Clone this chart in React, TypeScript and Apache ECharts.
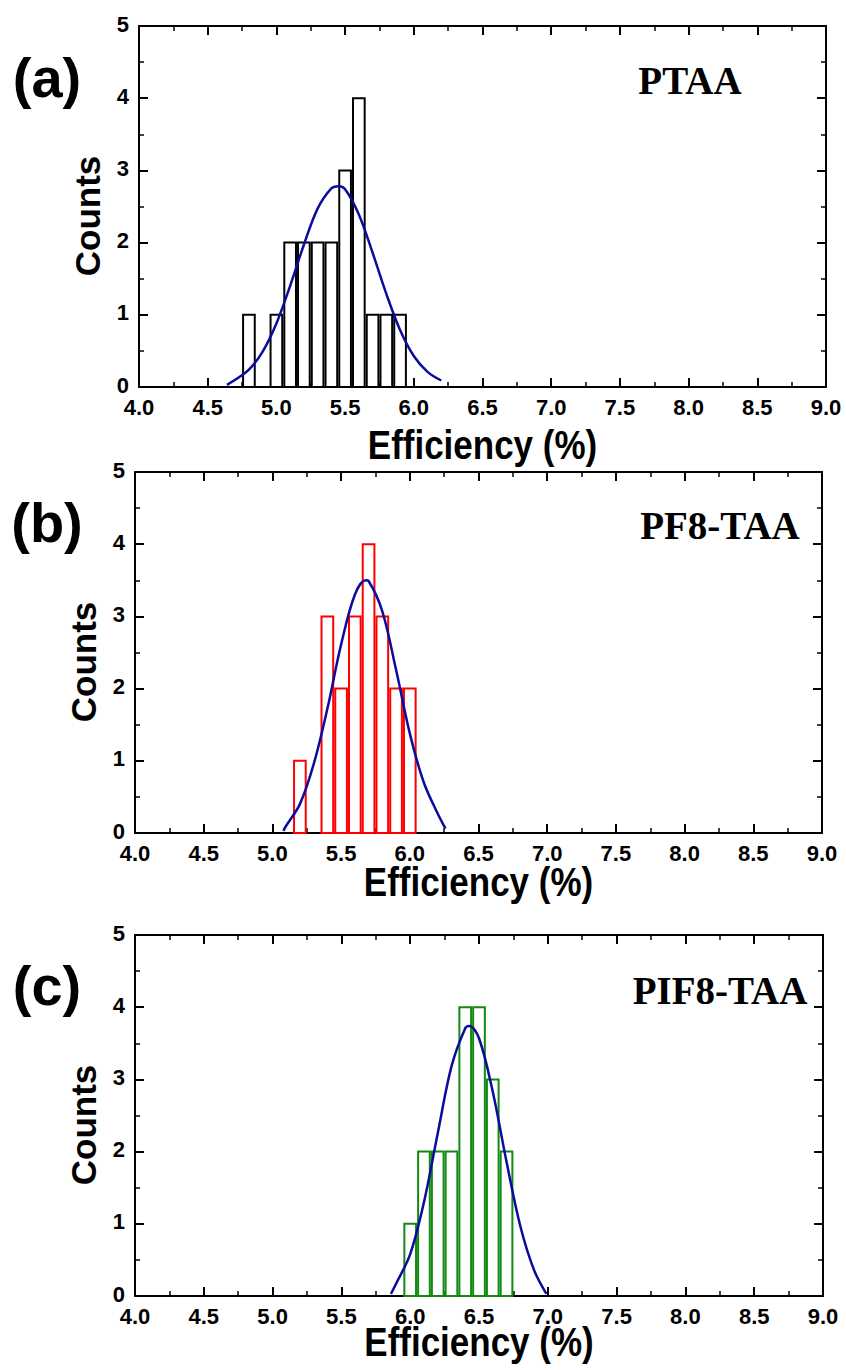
import React, { useEffect, useRef } from 'react';
import * as echarts from 'echarts';

const PANEL_LABELS = ['(a)', '(b)', '(c)'];
const MATERIALS = ['PTAA', 'PF8-TAA', 'PIF8-TAA'];
const BAR_COLORS = ['#000000', '#ff0000', '#128a12'];
const FIT_COLOR = '#0b0b9e';

const X_MIN = 4;
const X_MAX = 9;
const X_STEP = 0.5;
const Y_MIN = 0;
const Y_MAX = 5;
const Y_STEP = 1;
const BIN_W = 0.085;

// histogram bins (centres) and counts
const binsA = [4.8, 5.0, 5.1, 5.2, 5.3, 5.4, 5.5, 5.6, 5.7, 5.8, 5.9];
const countsA = [1, 1, 2, 2, 2, 2, 3, 4, 1, 1, 1];
const binsB = [5.2, 5.4, 5.5, 5.6, 5.7, 5.8, 5.9, 6.0];
const countsB = [1, 3, 2, 3, 4, 3, 2, 2];
const binsC = [6.0, 6.1, 6.2, 6.3, 6.4, 6.5, 6.6, 6.7];
const countsC = [1, 2, 2, 2, 4, 4, 3, 2];

// fitted curves
const fitAx = [4.64, 4.7, 4.8, 4.9, 5.0, 5.1, 5.2, 5.3, 5.4, 5.45, 5.5, 5.6, 5.7, 5.8, 5.9, 6.0, 6.1, 6.2];
const fitAy = [0.03, 0.1, 0.24, 0.49, 0.88, 1.4, 1.97, 2.47, 2.75, 2.78, 2.74, 2.39, 1.86, 1.29, 0.79, 0.43, 0.21, 0.09];
const fitBx = [5.08, 5.1, 5.2, 5.3, 5.4, 5.5, 5.6, 5.68, 5.7, 5.8, 5.9, 6.0, 6.1, 6.2, 6.26];
const fitBy = [0.03, 0.1, 0.4, 0.95, 1.72, 2.61, 3.3, 3.5, 3.49, 3.07, 2.26, 1.38, 0.71, 0.28, 0.06];
const fitCx = [5.86, 5.9, 6.0, 6.1, 6.2, 6.3, 6.4, 6.43, 6.5, 6.6, 6.7, 6.8, 6.9, 6.99];
const fitCy = [0.03, 0.18, 0.58, 1.3, 2.25, 3.18, 3.71, 3.74, 3.57, 2.83, 1.86, 0.97, 0.36, 0.03];

const BINS = [binsA, binsB, binsC];
const COUNTS = [countsA, countsB, countsC];
const FITX = [fitAx, fitBx, fitCx];
const FITY = [fitAy, fitBy, fitCy];

const GRIDS = [
  { left: 139, top: 26, width: 687, height: 361 },
  { left: 135, top: 472, width: 687, height: 361 },
  { left: 135, top: 935, width: 688, height: 361 },
];
const TITLE_GAP = [58, 49, 46];

const SANS = '"Liberation Sans", Arial, sans-serif';
const SERIF = '"Liberation Serif", "Times New Roman", serif';

function xAxisDef(g: number, pos: 'bottom' | 'top') {
  return {
    gridIndex: g,
    type: 'value',
    position: pos,
    min: X_MIN,
    max: X_MAX,
    interval: X_STEP,
    axisLine: { show: true, onZero: false, lineStyle: { color: '#000', width: 2 } },
    axisTick: { show: true, inside: true, length: 9, lineStyle: { color: '#000', width: 2 } },
    minorTick: { show: true, splitNumber: 2, length: 5, lineStyle: { color: '#000', width: 1.5 } },
    splitLine: { show: false },
    minorSplitLine: { show: false },
    axisLabel: {
      show: pos === 'bottom',
      formatter: (v: number) => v.toFixed(1),
      fontFamily: SANS,
      fontWeight: 'bold',
      fontSize: 22,
      color: '#000',
      margin: 9,
    },
  };
}

function yAxisDef(g: number, pos: 'left' | 'right') {
  return {
    gridIndex: g,
    type: 'value',
    position: pos,
    min: Y_MIN,
    max: Y_MAX,
    interval: Y_STEP,
    axisLine: { show: true, onZero: false, lineStyle: { color: '#000', width: 2 } },
    axisTick: { show: true, inside: true, length: 9, lineStyle: { color: '#000', width: 2 } },
    minorTick: { show: true, splitNumber: 2, length: 5, lineStyle: { color: '#000', width: 1.5 } },
    splitLine: { show: false },
    minorSplitLine: { show: false },
    axisLabel: {
      show: pos === 'left',
      formatter: (v: number) => String(Math.round(v)),
      fontFamily: SANS,
      fontWeight: 'bold',
      fontSize: 22,
      color: '#000',
      margin: 10,
      verticalAlign: 'bottom',
      lineHeight: 22,
      padding: [0, 0, -9, 0],
    },
  };
}

export default function App() {
  const ref = useRef<HTMLDivElement>(null);

  useEffect(() => {
    document.body.style.margin = '0';
    if (!ref.current) return;
    const chart = echarts.init(ref.current, null, { renderer: 'svg' });

    const xAxis: any[] = [];
    const yAxis: any[] = [];
    const series: any[] = [];
    const graphic: any[] = [];

    GRIDS.forEach((_, g) => {
      xAxis.push(xAxisDef(g, 'bottom'));
      xAxis.push(xAxisDef(g, 'top'));
      yAxis.push(yAxisDef(g, 'left'));
      yAxis.push(yAxisDef(g, 'right'));
      const color = BAR_COLORS[g];
      series.push({
        type: 'custom',
        xAxisIndex: 2 * g,
        yAxisIndex: 2 * g,
        z: 2,
        data: BINS[g].map((b, i) => [b, COUNTS[g][i]]),
        renderItem: (params: any, api: any) => {
          const x = api.value(0);
          const y = api.value(1);
          const p0 = api.coord([x - BIN_W / 2, y]);
          const p1 = api.coord([x + BIN_W / 2, 0]);
          return {
            type: 'rect',
            shape: { x: p0[0], y: p0[1], width: p1[0] - p0[0], height: p1[1] - p0[1] },
            style: { fill: '#ffffff', stroke: color, lineWidth: 2 },
          };
        },
      });
      series.push({
        type: 'line',
        xAxisIndex: 2 * g,
        yAxisIndex: 2 * g,
        z: 3,
        smooth: 0.35,
        showSymbol: false,
        symbol: 'none',
        lineStyle: { color: FIT_COLOR, width: 2.5 },
        data: FITX[g].map((x, i) => [x, FITY[g][i]]),
      });

      const gr = GRIDS[g];
      const labelY = [77, 522, 985][g];
      graphic.push({
        type: 'text',
        x: 47,
        y: labelY,
        style: {
          text: PANEL_LABELS[g],
          font: `bold 56px ${SANS}`,
          fill: '#000',
          textAlign: 'center',
          textVerticalAlign: 'middle',
        },
      });
      graphic.push({
        type: 'text',
        x: [690, 720, 720][g],
        y: [80, 525, 990][g],
        style: {
          text: MATERIALS[g],
          font: `bold 39px ${SERIF}`,
          fill: '#000',
          textAlign: 'center',
          textVerticalAlign: 'middle',
        },
      });
      graphic.push({
        type: 'text',
        x: gr.left + gr.width / 2,
        y: gr.top + gr.height + TITLE_GAP[g],
        scaleY: 1.15,
        style: {
          text: 'Efficiency (%)',
          font: `bold 35px ${SANS}`,
          fill: '#000',
          textAlign: 'center',
          textVerticalAlign: 'middle',
        },
      });
      graphic.push({
        type: 'text',
        x: gr.left - 52,
        y: gr.top + 190,
        rotation: Math.PI / 2,
        style: {
          text: 'Counts',
          font: `bold 35px ${SANS}`,
          fill: '#000',
          textAlign: 'center',
          textVerticalAlign: 'middle',
        },
      });
    });

    chart.setOption({
      animation: false,
      backgroundColor: '#ffffff',
      grid: GRIDS.map((g) => ({ ...g, containLabel: false })),
      xAxis,
      yAxis,
      series,
      graphic,
    });

    return () => chart.dispose();
  }, []);

  return <div ref={ref} style={{ width: 846, height: 1370 }} />;
}
